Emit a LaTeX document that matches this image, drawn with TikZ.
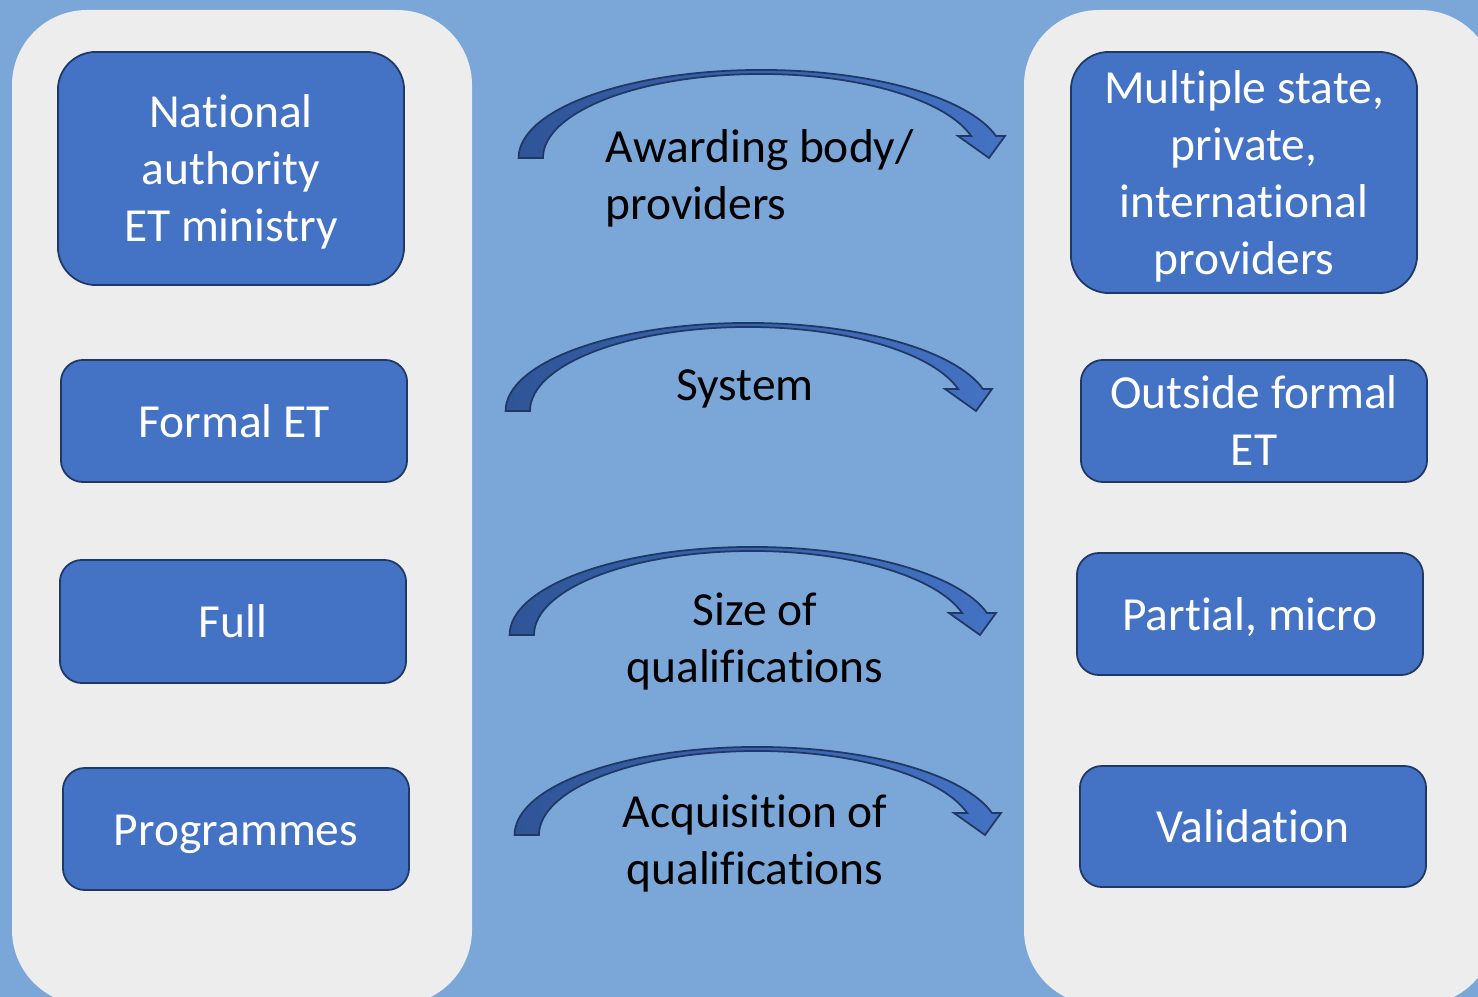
\documentclass[tikz,border=0pt]{standalone}
\usepackage{fontspec}
\setmainfont{Carlito}[Ligatures=NoCommon]
\definecolor{bgblue}{HTML}{7AA7D7}
\definecolor{panelgrey}{HTML}{EDEDED}
\definecolor{boxblue}{HTML}{4472C4}
\definecolor{boxedge}{HTML}{1F3864}
\definecolor{arrowdark}{HTML}{2F5597}

% line struts, so that text is centred on its line boxes rather than its ink
\newcommand\linetop{\rule{0pt}{0.94em}}
\newcommand\linebot{\rule[-0.25em]{0pt}{0.25em}}

\tikzset{
  panel/.style={fill=panelgrey, rounded corners=0.75cm},
  bluebox/.style={draw=boxedge, fill=boxblue, line width=0.5pt,
    text=white, align=center, minimum width=3.46cm, inner sep=0pt,
    rounded corners=0.22cm, font=\fontsize{13.5}{16.2}\selectfont},
  tallbox/.style={bluebox, rounded corners=0.38cm},
  label/.style={text=black, inner sep=0pt, font=\fontsize{13.5}{16.2}\selectfont},
  % curved block arrow bending down to the right
  bentarrow/.pic={
    \path[draw=boxedge, line width=0.5pt, line join=miter,
          left color=arrowdark, right color=boxblue]
      (-242.4,0) arc[start angle=180, end angle=14.5, x radius=2.424cm, y radius=0.88cm]
      -- (244,22) -- (228,0) -- (197,22) -- (210.2,22)
      arc[start angle=15.2, end angle=180, x radius=2.178cm, y radius=0.84cm] -- cycle;
  }
}

\begin{document}
\begin{tikzpicture}[x=0.01cm, y=0.01cm]
  \useasboundingbox (0,0) rectangle (1478,-997);
  \fill[bgblue] (0,0) rectangle (1478,-997);

  % side panels
  \fill[panel] (12,-10) rectangle (472,-1005);
  \fill[panel] (1024,-10) rectangle (1495,-1005);

  % left column
  \node[tallbox, minimum height=2.33cm] (natl) at (231,-168.5) {\linetop National\\authority\\ET ministry\linebot};
  \node[bluebox, minimum height=1.22cm] (formal) at (234,-421) {\linetop Formal ET\linebot};
  \node[bluebox, minimum height=1.23cm] (full) at (233,-621.5) {\linetop Full\linebot};
  \node[bluebox, minimum height=1.22cm] (prog) at (236,-829) {\linetop Programmes\linebot};

  % right column
  \node[tallbox, minimum height=2.41cm] (multi) at (1244,-172.5) {\linetop Multiple state,\\private,\\international\\providers\linebot};
  \node[bluebox, minimum height=1.22cm] (outside) at (1254,-421) {\linetop Outside formal\\ET\linebot};
  \node[bluebox, minimum height=1.22cm] (partial) at (1250,-614) {\linetop Partial, micro\linebot};
  \node[bluebox, minimum height=1.21cm] (valid) at (1253,-826.5) {\linetop Validation\linebot};

  % curved arrows
  \pic at (761,-158) {bentarrow};
  \pic at (748,-411) {bentarrow};
  \pic at (752,-635) {bentarrow};
  \pic at (757,-835) {bentarrow};

  % arrow captions
  \node[label, align=left, anchor=west] (award) at (605,-174.5) {\linetop Awarding body/\\providers\linebot};
  \node[label, anchor=base] (system) at (745,-400) {System};
  \node[label, align=center] (size) at (755,-638) {\linetop Size of\\qualifications\linebot};
  \node[label, align=center] (acq) at (755,-840) {\linetop Acquisition of\\qualifications\linebot};
\end{tikzpicture}
\end{document}
